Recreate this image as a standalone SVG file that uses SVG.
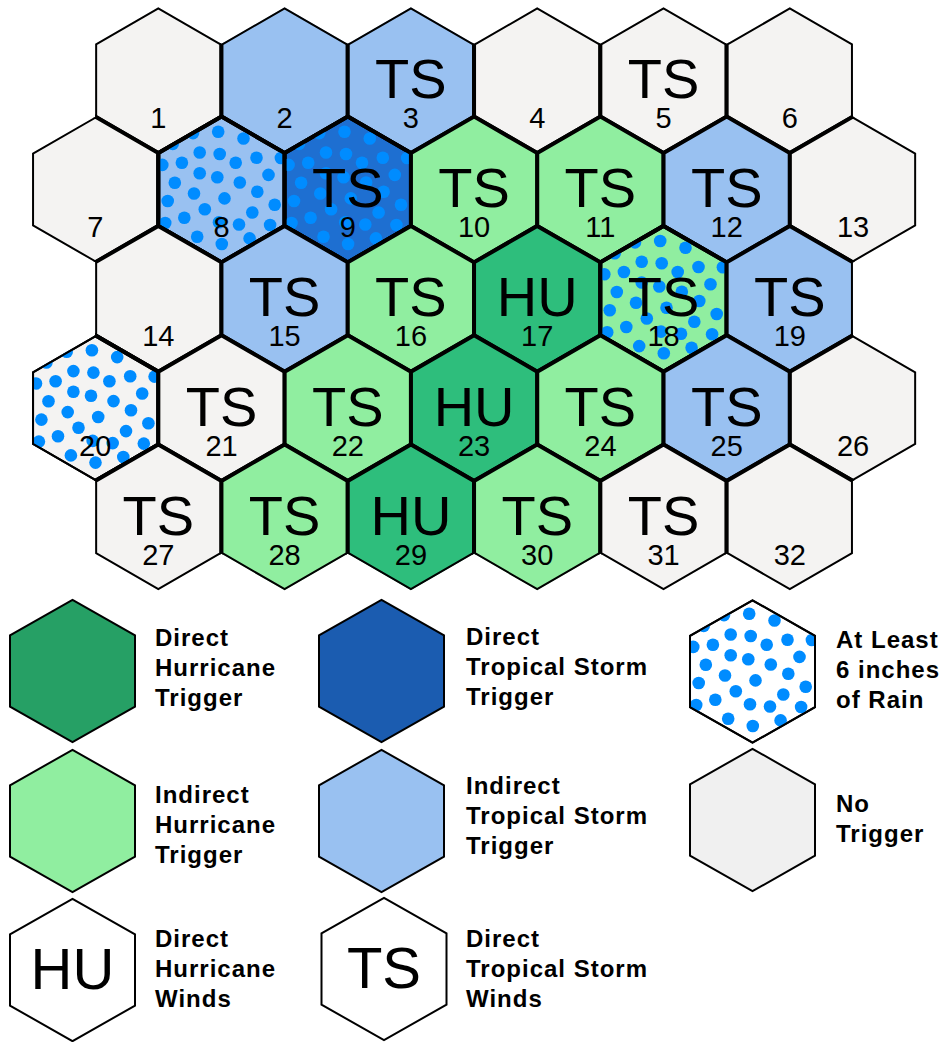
<svg xmlns="http://www.w3.org/2000/svg" xmlns:xlink="http://www.w3.org/1999/xlink" width="943" height="1042" viewBox="0 0 943 1042">
<style>
.h{stroke:#000;stroke-width:4;stroke-linejoin:miter}
.o{fill:none;stroke:#000;stroke-width:4}
.lh{stroke:#000;stroke-width:2}
.lo{fill:none;stroke:#000;stroke-width:2}
.gray{fill:#f4f3f2}
.lb{fill:#99c1f1}
.db{fill:#1e6fd1}
.lg{fill:#90eea0}
.dg{fill:#2ebe7c}
.big{font-family:"Liberation Sans",Arial,sans-serif;font-size:56px;text-anchor:middle;fill:#000}
.num{font-family:"Liberation Sans",Arial,sans-serif;font-size:29px;text-anchor:middle;fill:#000}
.lbig{font-family:"Liberation Sans",Arial,sans-serif;font-size:58px;text-anchor:middle;fill:#000}
.lt{font-family:"Liberation Sans",Arial,sans-serif;font-size:24px;font-weight:bold;letter-spacing:1px;fill:#000}
</style>
<defs>
<polygon id="hx" points="0,-72.9 63.15,-36.45 63.15,36.45 0,72.9 -63.15,36.45 -63.15,-36.45"/>
<polygon id="lhx" points="0,-71.2 62.5,-35.6 62.5,35.6 0,71.2 -62.5,35.6 -62.5,-35.6"/>
<clipPath id="hxc"><polygon points="0,-72.9 63.15,-36.45 63.15,36.45 0,72.9 -63.15,36.45 -63.15,-36.45"/></clipPath>
<clipPath id="lhxc"><polygon points="0,-71.2 62.5,-35.6 62.5,35.6 0,71.2 -62.5,35.6 -62.5,-35.6"/></clipPath>
<g id="dots" fill="#008cff">
<circle cx="-3.3" cy="-57.8" r="6.3"/><circle cx="22" cy="-51" r="6.3"/><circle cx="-48.8" cy="-45.6" r="6.3"/>
<circle cx="-28.5" cy="-56.4" r="6.3"/><circle cx="-21.8" cy="-37" r="6.3"/><circle cx="-1.8" cy="-35.5" r="6.3"/>
<circle cx="14.2" cy="-26.8" r="6.3"/><circle cx="35" cy="-31.8" r="6.3"/><circle cx="59.4" cy="-31.5" r="6.3"/>
<circle cx="-39.6" cy="-26.8" r="6.3"/><circle cx="-59.2" cy="-24.6" r="6.3"/><circle cx="-21.8" cy="-16.3" r="6.3"/>
<circle cx="-4.2" cy="-12.3" r="6.3"/><circle cx="18.3" cy="-7" r="6.3"/><circle cx="47" cy="-14.6" r="6.3"/>
<circle cx="-46.7" cy="-6.8" r="6.3"/><circle cx="-27.5" cy="4" r="6.3"/><circle cx="3" cy="8.9" r="6.3"/>
<circle cx="35.8" cy="2.2" r="6.3"/><circle cx="-53.8" cy="11.5" r="6.3"/><circle cx="-16.7" cy="19.7" r="6.3"/>
<circle cx="30.8" cy="23" r="6.3"/><circle cx="53.2" cy="15.2" r="6.3"/><circle cx="-37.2" cy="28.2" r="6.3"/>
<circle cx="-56.3" cy="33.5" r="6.3"/><circle cx="17.5" cy="35" r="6.3"/><circle cx="-2.5" cy="32.8" r="6.3"/>
<circle cx="48.6" cy="35.5" r="6.3"/><circle cx="-24.3" cy="47.3" r="6.3"/><circle cx="0.3" cy="54.5" r="6.3"/>
<circle cx="28.1" cy="48.9" r="6.3"/>
</g>
<clipPath id="gridclip">
<use xlink:href="#hx" x="158.3" y="80.2"/><use xlink:href="#hx" x="284.6" y="80.2"/><use xlink:href="#hx" x="410.9" y="80.2"/>
<use xlink:href="#hx" x="537.2" y="80.2"/><use xlink:href="#hx" x="663.5" y="80.2"/><use xlink:href="#hx" x="789.8" y="80.2"/>
<use xlink:href="#hx" x="95.2" y="189.5"/><use xlink:href="#hx" x="221.5" y="189.5"/><use xlink:href="#hx" x="347.8" y="189.5"/>
<use xlink:href="#hx" x="474.1" y="189.5"/><use xlink:href="#hx" x="600.4" y="189.5"/><use xlink:href="#hx" x="726.7" y="189.5"/>
<use xlink:href="#hx" x="853" y="189.5"/>
<use xlink:href="#hx" x="158.3" y="298.8"/><use xlink:href="#hx" x="284.6" y="298.8"/><use xlink:href="#hx" x="410.9" y="298.8"/>
<use xlink:href="#hx" x="537.2" y="298.8"/><use xlink:href="#hx" x="663.5" y="298.8"/><use xlink:href="#hx" x="789.8" y="298.8"/>
<use xlink:href="#hx" x="95.2" y="408.1"/><use xlink:href="#hx" x="221.5" y="408.1"/><use xlink:href="#hx" x="347.8" y="408.1"/>
<use xlink:href="#hx" x="474.1" y="408.1"/><use xlink:href="#hx" x="600.4" y="408.1"/><use xlink:href="#hx" x="726.7" y="408.1"/>
<use xlink:href="#hx" x="853" y="408.1"/>
<use xlink:href="#hx" x="158.3" y="517.4"/><use xlink:href="#hx" x="284.6" y="517.4"/><use xlink:href="#hx" x="410.9" y="517.4"/>
<use xlink:href="#hx" x="537.2" y="517.4"/><use xlink:href="#hx" x="663.5" y="517.4"/><use xlink:href="#hx" x="789.8" y="517.4"/>
</clipPath>
</defs>
<rect width="943" height="1042" fill="#fff"/>
<g id="grid" clip-path="url(#gridclip)">
<g id="hex1" transform="translate(158.3,80.2)"><use xlink:href="#hx" class="gray h"/><text class="num" y="47.5">1</text></g>
<g id="hex2" transform="translate(284.6,80.2)"><use xlink:href="#hx" class="lb h"/><text class="num" y="47.5">2</text></g>
<g id="hex3" transform="translate(410.9,80.2)"><use xlink:href="#hx" class="lb h"/><text class="big" y="17.5">TS</text><text class="num" y="47.5">3</text></g>
<g id="hex4" transform="translate(537.2,80.2)"><use xlink:href="#hx" class="gray h"/><text class="num" y="47.5">4</text></g>
<g id="hex5" transform="translate(663.5,80.2)"><use xlink:href="#hx" class="gray h"/><text class="big" y="17.5">TS</text><text class="num" y="47.5">5</text></g>
<g id="hex6" transform="translate(789.8,80.2)"><use xlink:href="#hx" class="gray h"/><text class="num" y="47.5">6</text></g>
<g id="hex7" transform="translate(95.2,189.5)"><use xlink:href="#hx" class="gray h"/><text class="num" y="47.5">7</text></g>
<g id="hex8" transform="translate(221.5,189.5)"><use xlink:href="#hx" class="lb h"/><use xlink:href="#dots" clip-path="url(#hxc)"/><use xlink:href="#hx" class="o"/><text class="num" y="47.5">8</text></g>
<g id="hex9" transform="translate(347.8,189.5)"><use xlink:href="#hx" class="db h"/><use xlink:href="#dots" clip-path="url(#hxc)"/><use xlink:href="#hx" class="o"/><text class="big" y="17.5">TS</text><text class="num" y="47.5">9</text></g>
<g id="hex10" transform="translate(474.1,189.5)"><use xlink:href="#hx" class="lg h"/><text class="big" y="17.5">TS</text><text class="num" y="47.5">10</text></g>
<g id="hex11" transform="translate(600.4,189.5)"><use xlink:href="#hx" class="lg h"/><text class="big" y="17.5">TS</text><text class="num" y="47.5">11</text></g>
<g id="hex12" transform="translate(726.7,189.5)"><use xlink:href="#hx" class="lb h"/><text class="big" y="17.5">TS</text><text class="num" y="47.5">12</text></g>
<g id="hex13" transform="translate(853,189.5)"><use xlink:href="#hx" class="gray h"/><text class="num" y="47.5">13</text></g>
<g id="hex14" transform="translate(158.3,298.8)"><use xlink:href="#hx" class="gray h"/><text class="num" y="47.5">14</text></g>
<g id="hex15" transform="translate(284.6,298.8)"><use xlink:href="#hx" class="lb h"/><text class="big" y="17.5">TS</text><text class="num" y="47.5">15</text></g>
<g id="hex16" transform="translate(410.9,298.8)"><use xlink:href="#hx" class="lg h"/><text class="big" y="17.5">TS</text><text class="num" y="47.5">16</text></g>
<g id="hex17" transform="translate(537.2,298.8)"><use xlink:href="#hx" class="dg h"/><text class="big" y="17.5">HU</text><text class="num" y="47.5">17</text></g>
<g id="hex18" transform="translate(663.5,298.8)"><use xlink:href="#hx" class="lg h"/><use xlink:href="#dots" clip-path="url(#hxc)"/><use xlink:href="#hx" class="o"/><text class="big" y="17.5">TS</text><text class="num" y="47.5">18</text></g>
<g id="hex19" transform="translate(789.8,298.8)"><use xlink:href="#hx" class="lb h"/><text class="big" y="17.5">TS</text><text class="num" y="47.5">19</text></g>
<g id="hex20" transform="translate(95.2,408.1)"><use xlink:href="#hx" class="gray h"/><use xlink:href="#dots" clip-path="url(#hxc)"/><use xlink:href="#hx" class="o"/><text class="num" y="47.5">20</text></g>
<g id="hex21" transform="translate(221.5,408.1)"><use xlink:href="#hx" class="gray h"/><text class="big" y="17.5">TS</text><text class="num" y="47.5">21</text></g>
<g id="hex22" transform="translate(347.8,408.1)"><use xlink:href="#hx" class="lg h"/><text class="big" y="17.5">TS</text><text class="num" y="47.5">22</text></g>
<g id="hex23" transform="translate(474.1,408.1)"><use xlink:href="#hx" class="dg h"/><text class="big" y="17.5">HU</text><text class="num" y="47.5">23</text></g>
<g id="hex24" transform="translate(600.4,408.1)"><use xlink:href="#hx" class="lg h"/><text class="big" y="17.5">TS</text><text class="num" y="47.5">24</text></g>
<g id="hex25" transform="translate(726.7,408.1)"><use xlink:href="#hx" class="lb h"/><text class="big" y="17.5">TS</text><text class="num" y="47.5">25</text></g>
<g id="hex26" transform="translate(853,408.1)"><use xlink:href="#hx" class="gray h"/><text class="num" y="47.5">26</text></g>
<g id="hex27" transform="translate(158.3,517.4)"><use xlink:href="#hx" class="gray h"/><text class="big" y="17.5">TS</text><text class="num" y="47.5">27</text></g>
<g id="hex28" transform="translate(284.6,517.4)"><use xlink:href="#hx" class="lg h"/><text class="big" y="17.5">TS</text><text class="num" y="47.5">28</text></g>
<g id="hex29" transform="translate(410.9,517.4)"><use xlink:href="#hx" class="dg h"/><text class="big" y="17.5">HU</text><text class="num" y="47.5">29</text></g>
<g id="hex30" transform="translate(537.2,517.4)"><use xlink:href="#hx" class="lg h"/><text class="big" y="17.5">TS</text><text class="num" y="47.5">30</text></g>
<g id="hex31" transform="translate(663.5,517.4)"><use xlink:href="#hx" class="gray h"/><text class="big" y="17.5">TS</text><text class="num" y="47.5">31</text></g>
<g id="hex32" transform="translate(789.8,517.4)"><use xlink:href="#hx" class="gray h"/><text class="num" y="47.5">32</text></g>
</g>
<g id="legend">
<g id="leg-direct-hurricane"><use xlink:href="#lhx" class="lh" x="72.5" y="671" fill="#26a065"/>
<text class="lt"><tspan x="155" y="646">Direct</tspan><tspan x="155" y="676">Hurricane</tspan><tspan x="155" y="706">Trigger</tspan></text></g>
<g id="leg-indirect-hurricane"><use xlink:href="#lhx" class="lh" x="72.5" y="821" fill="#90eea0"/>
<text class="lt"><tspan x="155" y="803">Indirect</tspan><tspan x="155" y="833">Hurricane</tspan><tspan x="155" y="863">Trigger</tspan></text></g>
<g id="leg-hurricane-winds"><use xlink:href="#lhx" class="lh" x="72.5" y="970" fill="#fff"/><text class="lbig" x="72.5" y="989">HU</text>
<text class="lt"><tspan x="155" y="947">Direct</tspan><tspan x="155" y="977">Hurricane</tspan><tspan x="155" y="1007">Winds</tspan></text></g>
<g id="leg-direct-ts"><use xlink:href="#lhx" class="lh" x="381.5" y="671" fill="#1b5cb0"/>
<text class="lt"><tspan x="466" y="645">Direct</tspan><tspan x="466" y="675">Tropical Storm</tspan><tspan x="466" y="705">Trigger</tspan></text></g>
<g id="leg-indirect-ts"><use xlink:href="#lhx" class="lh" x="381.5" y="821" fill="#99c1f1"/>
<text class="lt"><tspan x="466" y="794">Indirect</tspan><tspan x="466" y="824">Tropical Storm</tspan><tspan x="466" y="854">Trigger</tspan></text></g>
<g id="leg-ts-winds"><use xlink:href="#lhx" class="lh" x="384" y="969" fill="#fff"/><text class="lbig" x="384" y="988">TS</text>
<text class="lt"><tspan x="466" y="947">Direct</tspan><tspan x="466" y="977">Tropical Storm</tspan><tspan x="466" y="1007">Winds</tspan></text></g>
<g id="leg-rain"><g transform="translate(752.5,671.5)"><use xlink:href="#lhx" class="lh" fill="#fff"/><use xlink:href="#dots" clip-path="url(#lhxc)"/><use xlink:href="#lhx" class="lo"/></g>
<text class="lt"><tspan x="836" y="648">At Least</tspan><tspan x="836" y="678">6 inches</tspan><tspan x="836" y="708">of Rain</tspan></text></g>
<g id="leg-no-trigger"><use xlink:href="#lhx" class="lh" x="752.5" y="820" fill="#f0f0f0"/>
<text class="lt"><tspan x="836" y="812">No</tspan><tspan x="836" y="842">Trigger</tspan></text></g>
</g>
</svg>
